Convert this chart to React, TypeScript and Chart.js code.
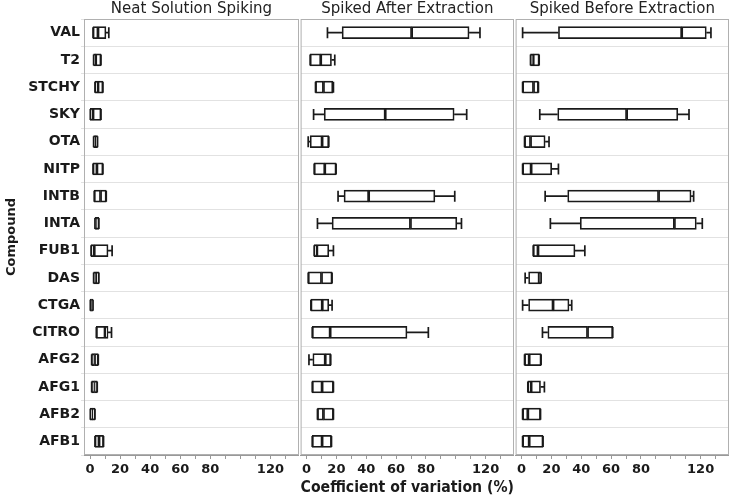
import React, { useEffect, useRef } from "react";
import { Chart, registerables } from "chart.js";

Chart.register(...registerables);

const compounds = ["VAL", "T2", "STCHY", "SKY", "OTA", "NITP", "INTB", "INTA", "FUB1", "DAS", "CTGA", "CITRO", "AFG2", "AFG1", "AFB2", "AFB1"];
const panelTitles = ["Neat Solution Spiking", "Spiked After Extraction", "Spiked Before Extraction"];
const tickLabels = [0, 20, 40, 60, 80, 120];

// Neat Solution Spiking
const neatMin = [2, 2.4, 3.3, 0.2, 2.4, 2, 2.8, 3.3, 0.7, 2.4, 0.2, 4.2, 1.1, 1.1, 0.2, 3.3];
const neatQ1 = [2, 2.4, 3.3, 0.2, 2.4, 2, 2.8, 3.3, 0.7, 2.4, 0.2, 4.2, 1.1, 1.1, 0.2, 3.3];
const neatMed = [5.3, 3.8, 5.3, 2.0, 3.5, 4.6, 7, 4.5, 2.8, 4, 1, 10, 3, 3, 1.5, 6];
const neatQ3 = [10.6, 7.3, 8.6, 7.3, 5.0, 8.6, 10.8, 5.9, 12, 5.9, 2, 12, 5.5, 4.8, 3.3, 9];
const neatMax = [12.5, 7.3, 8.6, 7.3, 5.0, 8.6, 10.8, 5.9, 14.7, 5.9, 2, 14.3, 5.5, 4.8, 3.3, 9];

// Spiked After Extraction
const afterMin = [14, 2.4, 6, 4.7, 1.1, 5.1, 21.1, 7.3, 5.1, 1.1, 2.9, 3.8, 1.6, 3.8, 7.3, 3.8];
const afterQ1 = [23.8, 2.4, 6, 11.8, 2.4, 5.1, 25.1, 17.1, 5.1, 1.1, 2.9, 3.8, 4.2, 3.8, 7.3, 3.8];
const afterMed = [70.4, 9.5, 11.3, 52.7, 10.4, 12.2, 41.6, 69.6, 6.9, 10, 10.5, 15.8, 12.5, 10.4, 11.3, 10.4];
const afterQ3 = [108.9, 16.7, 17.6, 98.9, 14.9, 19.8, 86, 100.7, 14.9, 17.1, 14.9, 67.3, 16.2, 18, 18, 16.7];
const afterMax = [116.2, 18.9, 18, 107.3, 14.9, 19.8, 99.3, 103.8, 18, 17.1, 17.1, 81.6, 16.2, 18, 18, 16.7];

// Spiked Before Extraction
const beforeMin = [0.7, 6, 0.7, 12.2, 2, 0.7, 15.8, 19.3, 7.8, 2.4, 0.7, 14, 2, 4.2, 0.7, 0.7];
const beforeQ1 = [24.7, 6, 0.7, 24.2, 2, 0.7, 30.9, 39.3, 7.8, 4.7, 4.7, 17.6, 2, 4.2, 0.7, 0.7];
const beforeMed = [107.3, 7.8, 8, 70.4, 6, 6.4, 91.8, 102.4, 11, 11.8, 21.1, 44.2, 5.1, 6.4, 4.2, 5.1];
const beforeQ3 = [123.8, 11.8, 11.3, 104.7, 15.8, 20.2, 113.6, 117.1, 35.8, 13.1, 31.8, 61.1, 13.1, 12.7, 12.7, 14.4];
const beforeMax = [126.9, 11.8, 11.3, 112.2, 18.4, 24.7, 115.3, 121.1, 42.4, 13.1, 33.6, 61.1, 13.1, 15.3, 12.7, 14.4];

const panels = [
  { min: neatMin, q1: neatQ1, med: neatMed, q3: neatQ3, max: neatMax },
  { min: afterMin, q1: afterQ1, med: afterMed, q3: afterQ3, max: afterMax },
  { min: beforeMin, q1: beforeQ1, med: beforeMed, q3: beforeQ3, max: beforeMax },
];

const FONT = "'DejaVu Sans', sans-serif";
const INK = "#1a1a1a";

function makeWhiskerPlugin(p: any) {
  return {
    id: "whiskers",
    beforeDatasetsDraw(chart: any) {
      const { ctx, chartArea } = chart;
      ctx.save();
      ctx.strokeStyle = "#b0b0b0";
      ctx.lineWidth = 1;
      ctx.strokeRect(chartArea.left + 0.5, chartArea.top + 0.5, chartArea.right - chartArea.left - 1, chartArea.bottom - chartArea.top - 1);
      ctx.restore();
    },
    afterDatasetsDraw(chart: any) {
      const { ctx } = chart;
      const xs = chart.scales.x;
      const ys = chart.scales.y;
      ctx.save();
      ctx.strokeStyle = INK;
      ctx.lineWidth = 1.7;
      const h = 5.5;
      for (let i = 0; i < compounds.length; i++) {
        const yc = ys.getPixelForValue(i);
        const xmin = xs.getPixelForValue(p.min[i]);
        const xq1 = xs.getPixelForValue(p.q1[i]);
        const xq3 = xs.getPixelForValue(p.q3[i]);
        const xmax = xs.getPixelForValue(p.max[i]);
        ctx.beginPath();
        ctx.moveTo(xmin, yc);
        ctx.lineTo(xq1, yc);
        ctx.moveTo(xq3, yc);
        ctx.lineTo(xmax, yc);
        ctx.moveTo(xmin, yc - h);
        ctx.lineTo(xmin, yc + h);
        ctx.moveTo(xmax, yc - h);
        ctx.lineTo(xmax, yc + h);
        ctx.stroke();
      }
      ctx.restore();
    },
  };
}

function Panel({ index, left, width }: { index: number; left: number; width: number }) {
  const ref = useRef<HTMLCanvasElement>(null);
  useEffect(() => {
    const p = panels[index];
    const first = index === 0;
    const barStyle = {
      backgroundColor: "#ffffff",
      borderColor: INK,
      borderWidth: 1.7,
      borderSkipped: false,
      barThickness: 12,
      grouped: false,
    };
    const chart = new Chart(ref.current as HTMLCanvasElement, {
      type: "bar",
      data: {
        labels: compounds,
        datasets: [
          { ...barStyle, data: p.q1.map((v, i) => [v, p.med[i]]) } as any,
          { ...barStyle, data: p.med.map((v, i) => [v, p.q3[i]]) } as any,
        ],
      },
      options: {
        indexAxis: "y",
        animation: false,
        responsive: true,
        maintainAspectRatio: false,
        layout: { padding: 0 },
        plugins: {
          legend: { display: false },
          tooltip: { enabled: false },
          title: {
            display: true,
            text: panelTitles[index],
            fullSize: false,
            color: "#222",
            font: { family: FONT, size: 15, weight: "normal" },
            padding: { top: 0, bottom: 1 },
          },
        },
        scales: {
          x: {
            type: "linear",
            min: -4,
            max: 139,
            afterBuildTicks: (scale: any) => {
              const t = [];
              for (let v = 0; v <= 130; v += 10) t.push({ value: v });
              scale.ticks = t;
            },
            afterFit: (scale: any) => {
              scale.height = 42;
            },
            ticks: {
              autoSkip: false,
              maxRotation: 0,
              padding: 3,
              color: INK,
              font: { family: FONT, size: 13, weight: "bold" },
              callback: (v: any) => (tickLabels.includes(Number(v)) ? String(v) : ""),
            },
            grid: { drawOnChartArea: false, drawTicks: true, tickLength: 4, color: "#999" },
            border: { display: true, color: "#999" },
            title: {
              display: index === 1,
              text: "Coefficient of variation (%)",
              color: INK,
              font: { family: FONT, size: 16, weight: "bold" },
              padding: { top: 0, bottom: 0 },
            },
          },
          y: {
            type: "category",
            offset: true,
            afterFit: (scale: any) => {
              scale.width = first ? 84 : 0;
            },
            ticks: {
              display: first,
              padding: 1,
              color: INK,
              font: { family: FONT, size: 14, weight: "bold" },
            },
            grid: { color: "#e2e2e2", drawTicks: first, tickLength: 3 },
            border: { display: false },
            title: {
              display: first,
              text: "Compound",
              color: INK,
              font: { family: FONT, size: 13, weight: "bold" },
              padding: { top: 4, bottom: 0 },
            },
          },
        },
      } as any,
      plugins: [makeWhiskerPlugin(p)],
    });
    return () => chart.destroy();
  }, [index]);
  return (
    <div style={{ position: "absolute", left, top: 0, width, height: 497 }}>
      <canvas ref={ref} />
    </div>
  );
}

export default function App() {
  return (
    <div style={{ position: "fixed", left: 0, top: 0, width: 733, height: 497, background: "#fff" }}>
      <Panel index={0} left={0} width={299} />
      <Panel index={1} left={299} width={215} />
      <Panel index={2} left={514} width={215} />
    </div>
  );
}
